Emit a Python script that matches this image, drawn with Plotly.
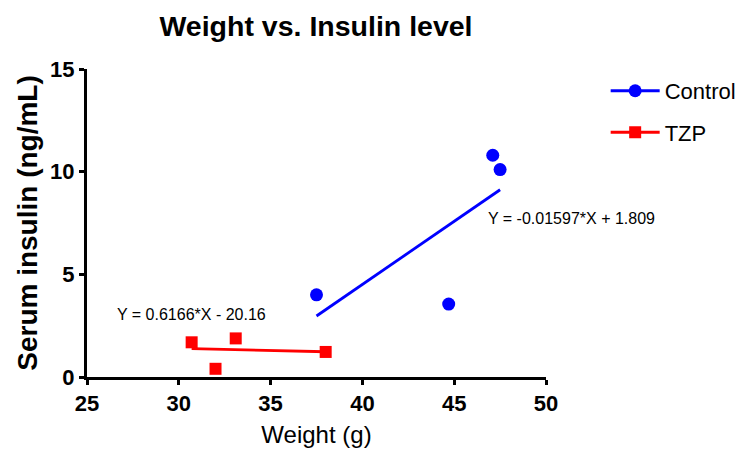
import plotly.graph_objects as go

# Data
control_x = [37.5, 44.7, 47.1, 47.5]
control_y = [4.0, 3.55, 10.8, 10.1]
tzp_x = [30.7, 33.1, 32.0, 38.0]
tzp_y = [1.69, 1.88, 0.40, 1.22]

# Fit line endpoints
control_fit_x = [37.5, 47.5]
control_fit_y = [2.97, 9.12]
tzp_fit_x = [30.7, 38.0]
tzp_fit_y = [1.38, 1.23]

x_ticks = [25, 30, 35, 40, 45, 50]
y_ticks = [0, 5, 10, 15]

control_eq = "Y = -0.01597*X + 1.809"
tzp_eq = "Y = 0.6166*X - 20.16"

FONT = "Arial, Liberation Sans, sans-serif"
BLUE = "#0000ff"
RED = "#ff0000"

fig = go.Figure()

fig.add_trace(go.Scatter(x=control_x, y=control_y, mode="markers", name="Control",
                         marker=dict(symbol="circle", size=13, color=BLUE),
                         showlegend=False))
fig.add_trace(go.Scatter(x=control_fit_x, y=control_fit_y, mode="lines", name="Control",
                         line=dict(color=BLUE, width=2.8),
                         showlegend=False))
fig.add_trace(go.Scatter(x=tzp_x, y=tzp_y, mode="markers", name="TZP",
                         marker=dict(symbol="square", size=12, color=RED),
                         showlegend=False))
fig.add_trace(go.Scatter(x=tzp_fit_x, y=tzp_fit_y, mode="lines", name="TZP",
                         line=dict(color=RED, width=2.8),
                         showlegend=False))

# Legend entries (line + marker)
fig.add_trace(go.Scatter(x=[None], y=[None], mode="lines+markers", name="Control",
                         marker=dict(symbol="circle", size=13, color=BLUE),
                         line=dict(color=BLUE, width=3), legendgroup="c"))
fig.add_trace(go.Scatter(x=[None], y=[None], mode="lines+markers", name="TZP",
                         marker=dict(symbol="square", size=12, color=RED),
                         line=dict(color=RED, width=3), legendgroup="t"))

fig.add_annotation(x=46.73, y=7.7, text=control_eq, showarrow=False,
                   xanchor="left", yanchor="middle",
                   font=dict(family=FONT, size=16, color="black"))
fig.add_annotation(x=26.53, y=3.02, text=tzp_eq, showarrow=False,
                   xanchor="left", yanchor="middle",
                   font=dict(family=FONT, size=16, color="black"))

fig.update_layout(
    width=746, height=451,
    margin=dict(l=79, r=208, t=61, b=82, autoexpand=False),
    paper_bgcolor="white", plot_bgcolor="white",
    title=dict(text="<b>Weight vs. Insulin level</b>", x=(315 - 7) / 746, xanchor="center",
               y=1 - 18 / 451, yanchor="middle",
               font=dict(family=FONT, size=28.5, color="black")),
    font=dict(family=FONT, color="black"),
    legend=dict(x=1.130, xanchor="left", y=0.997, yanchor="top",
                font=dict(family=FONT, size=22, color="black"),
                itemwidth=49, tracegroupgap=10, bgcolor="rgba(0,0,0,0)"),
    showlegend=True,
)

fig.update_xaxes(range=[25, 50], tickvals=x_ticks, ticktext=[f"<b>{v}</b>" for v in x_ticks],
                 showline=True, linecolor="black", linewidth=3, mirror=False,
                 ticks="outside", ticklen=5, tickwidth=3, tickcolor="black",
                 showgrid=False, zeroline=False, automargin=False,
                 tickfont=dict(family=FONT, size=22, color="black"),
                 title=dict(text="Weight (g)", font=dict(family=FONT, size=24, color="black"), standoff=11))
fig.update_yaxes(range=[0, 15], tickvals=y_ticks, ticktext=[f"<b>{v}</b>" for v in y_ticks],
                 showline=True, linecolor="black", linewidth=3, mirror=False,
                 ticks="outside", ticklen=5, tickwidth=3, tickcolor="black",
                 showgrid=False, zeroline=False, automargin=False,
                 tickfont=dict(family=FONT, size=22, color="black"),
                 title=dict(text="<b>Serum insulin (ng/mL)</b>", font=dict(family=FONT, size=28, color="black"), standoff=5))

fig.write_html("out.html")
